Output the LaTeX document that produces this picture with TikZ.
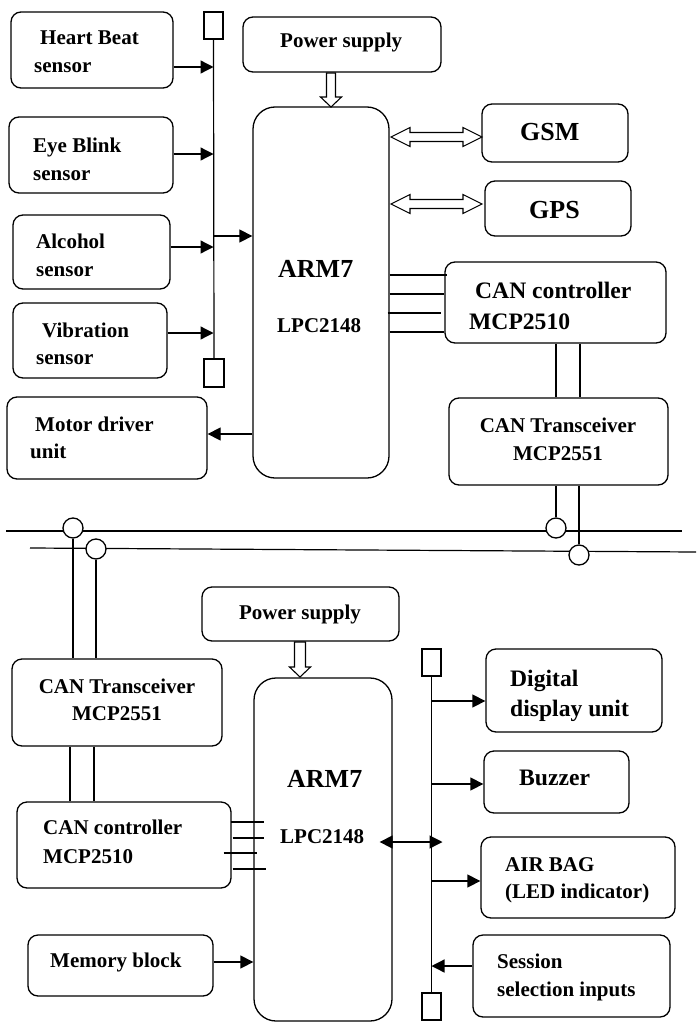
\documentclass[tikz,border=0pt]{standalone}
\usepackage{fontspec}
\setmainfont{Liberation Serif}
\usetikzlibrary{arrows.meta,fit}
\tikzset{
  box/.style={draw, line width=1.3pt, rounded corners=10pt, inner sep=0pt},
  bigbox/.style={box, rounded corners=22pt},
  term/.style={draw, line width=1.1pt, inner sep=0pt},
  txt/.style={font=\bfseries\fontsize{21}{24}\selectfont, anchor=base west, inner sep=0pt},
  txtc/.style={txt, anchor=base},
  big/.style={font=\bfseries\fontsize{23.6}{28}\selectfont},
  huge/.style={font=\bfseries\fontsize{26}{30}\selectfont},
  ln/.style={line width=1.2pt},
  arr/.style={line width=1.3pt, -{Triangle[length=13pt,width=13pt]}},
  arrb/.style={line width=1.3pt, {Triangle[length=13pt,width=13pt]}-{Triangle[length=13pt,width=13pt]}},
  hol/.style={draw, line width=1.1pt, fill=white, line join=miter},
  busc/.style={circle, draw, line width=1.3pt, fill=white, minimum size=20pt, inner sep=0pt}
}
\newcommand\bx[6][box]{\node[#1, fit={(#3,#4) (#5,#6)}] (#2) {};}
% hollow double arrow: x1, x2, y
\newcommand\hdarrow[3]{\draw[hol] (#1,#3) -- ({#1+19},{#3-9.5}) -- ({#1+19},{#3-4.5})
  -- ({#2-19},{#3-4.5}) -- ({#2-19},{#3-9.5}) -- (#2,#3) -- ({#2-19},{#3+9.5})
  -- ({#2-19},{#3+4.5}) -- ({#1+19},{#3+4.5}) -- ({#1+19},{#3+9.5}) -- cycle;}
% hollow down arrow: x, y1, y2, shaft half width
\newcommand\hvarrow[4]{\draw[hol] ({#1-#4},#2) -- ({#1+#4},#2) -- ({#1+#4},{#3-10})
  -- ({#1+10.5},{#3-10}) -- (#1,#3) -- ({#1-10.5},{#3-10}) -- ({#1-#4},{#3-10}) -- cycle;}
\begin{document}
\begin{tikzpicture}[x=1pt,y=-1pt]
\fill[white] (0,0) rectangle (696,1025);
\useasboundingbox (0,0) rectangle (696,1025);

% ---------------- upper unit ----------------
\bx{hb}{11}{12}{173}{88}
\bx{eb}{9}{117}{173}{193}
\bx{al}{13}{215}{170}{289}
\bx{vb}{13}{303}{167}{378}
\bx{md}{7}{397}{207}{479}
\bx{ps1}{243}{17}{441}{72}
\bx[bigbox]{arm1}{253}{107}{389}{478}
\bx{gsm}{482}{104}{628}{162}
\bx{gps}{485}{181}{631}{236}
\bx{can1}{445}{262}{666}{343}
\bx{trc1}{449}{398}{668}{485}
\bx[term]{ta}{204}{12}{223}{39}
\bx[term]{tb}{204}{359}{224}{387}

\draw[ln] (ta.south) -- (tb.north);
\draw[arr] (hb.east |- 0,67) -- (ta.south |- 0,67);
\draw[arr] (eb.east |- 0,154) -- (ta.south |- 0,154);
\draw[arr] (al.east |- 0,247) -- (ta.south |- 0,247);
\draw[arr] (vb.east |- 0,333) -- (ta.south |- 0,333);
\draw[arr] (ta.south |- 0,236) -- (arm1.west |- 0,236);
\draw[arr] (arm1.west |- 0,434) -- (md.east |- 0,434);

\hvarrow{331}{73}{107}{4.5}
\hdarrow{391}{482}{137}
\hdarrow{391}{482}{204}

\draw[ln] (arm1.east |- 0,275) -- ([xshift=3pt]can1.west |- 0,275);
\draw[ln] (arm1.east |- 0,294) -- (can1.west |- 0,294);
\draw[ln] ([xshift=-2pt]arm1.east |- 0,313) -- ([xshift=-3pt]can1.west |- 0,313);
\draw[ln] (arm1.east |- 0,332) -- (can1.west |- 0,332);
\draw[ln] (can1.south -| 556,0) -- (trc1.north -| 556,0);
\draw[ln] (can1.south -| 580,0) -- (trc1.north -| 580,0);

\node[txt] at (40,45) {Heart Beat};
\node[txt] at (34,73) {sensor};
\node[txt] at (33,152) {Eye Blink};
\node[txt] at (33,180) {sensor};
\node[txt] at (36,248) {Alcohol};
\node[txt] at (36,276) {sensor};
\node[txt] at (42,337) {Vibration};
\node[txt] at (36,364) {sensor};
\node[txt] at (35,431) {Motor driver};
\node[txt] at (30,458) {unit};
\node[txt] at (280,48) {Power supply};
\node[txt,huge] at (520,140) {GSM};
\node[txt,huge] at (529,218) {GPS};
\node[txt,huge] at (278,277) {ARM7};
\node[txt] at (277,332) {LPC2148};
\node[txt,big] at (475,298) {CAN controller};
\node[txt,big] at (469,329) {MCP2510};
\node[txtc] at (558,432) {CAN Transceiver};
\node[txtc] at (558,460) {MCP2551};

% ---------------- CAN bus ----------------
\coordinate (l1a) at (6,531);
\coordinate (l1b) at (682,531);
\coordinate (l2a) at (30,548);
\coordinate (l2b) at (696,552);
\draw[ln] (l1a) -- (l1b);
\draw[ln] (l2a) -- (l2b);
\node[busc] (c1) at (73,528) {};
\node[busc] (c2) at (96,549) {};
\node[busc] (c3) at (556,528) {};
\node[busc] (c4) at (579,555) {};
\draw[ln] (trc1.south -| c3) -- (c3.north);
\draw[ln] (trc1.south -| c4) -- (c4.north);

% ---------------- lower unit ----------------
\bx{ps2}{202}{587}{399}{641}
\bx[bigbox]{arm2}{254}{678}{392}{1021}
\bx{trc2}{12}{659}{222}{746}
\bx{can2}{17}{802}{231}{888}
\bx{mem}{28}{935}{213}{996}
\bx{dd}{486}{649}{662}{732}
\bx{bz}{484}{751}{629}{813}
\bx{ab}{481}{837}{675}{918}
\bx{ss}{473}{935}{670}{1017}
\bx[term]{tc}{422}{649}{441}{676}
\bx[term]{td}{422}{993}{441}{1020}

\draw[ln] (c1.south) -- (c1.south |- trc2.north);
\draw[ln] (c2.south) -- (c2.south |- trc2.north);
\draw[ln] (trc2.south -| 70,0) -- (can2.north -| 70,0);
\draw[ln] (trc2.south -| 94,0) -- (can2.north -| 94,0);

\hvarrow{300}{642}{677}{5.5}

\draw[ln] ([xshift=-1pt]can2.east |- 0,822) -- ([xshift=11pt]arm2.west |- 0,822);
\draw[ln] ([xshift=1pt]can2.east |- 0,838) -- ([xshift=11pt]arm2.west |- 0,838);
\draw[ln] ([xshift=-8pt]can2.east |- 0,853) -- ([xshift=4pt]arm2.west |- 0,853);
\draw[ln] ([xshift=1pt]can2.east |- 0,869) -- ([xshift=13pt]arm2.west |- 0,869);
\draw[arr] (mem.east |- 0,962) -- (arm2.west |- 0,962);

\draw[ln] (tc.south) -- (td.north);
\draw[arrb] ([xshift=-13pt]arm2.east |- 0,842) -- ([xshift=11pt]tc.south |- 0,842);
\draw[arr] (tc.south |- 0,701) -- (dd.west |- 0,701);
\draw[arr] (tc.south |- 0,784) -- (bz.west |- 0,784);
\draw[arr] (tc.south |- 0,881) -- (ab.west |- 0,881);
\draw[arr] (ss.west |- 0,966) -- (tc.south |- 0,966);

\node[txtc] at (300,619) {Power supply};
\node[txtc] at (117,693) {CAN Transceiver};
\node[txtc] at (117,720) {MCP2551};
\node[txt] at (43,834) {CAN controller};
\node[txt] at (43,863) {MCP2510};
\node[txt] at (50,967) {Memory block};
\node[txt,huge] at (287,787) {ARM7};
\node[txt] at (280,843) {LPC2148};
\node[txt,big] at (510,686) {Digital};
\node[txt,big] at (510,716) {display unit};
\node[txt,big] at (519,785) {Buzzer};
\node[txt] at (505,871) {AIR BAG};
\node[txt] at (505,898) {(LED indicator)};
\node[txt] at (497,968) {Session};
\node[txt] at (497,996) {selection inputs};
\end{tikzpicture}
\end{document}
